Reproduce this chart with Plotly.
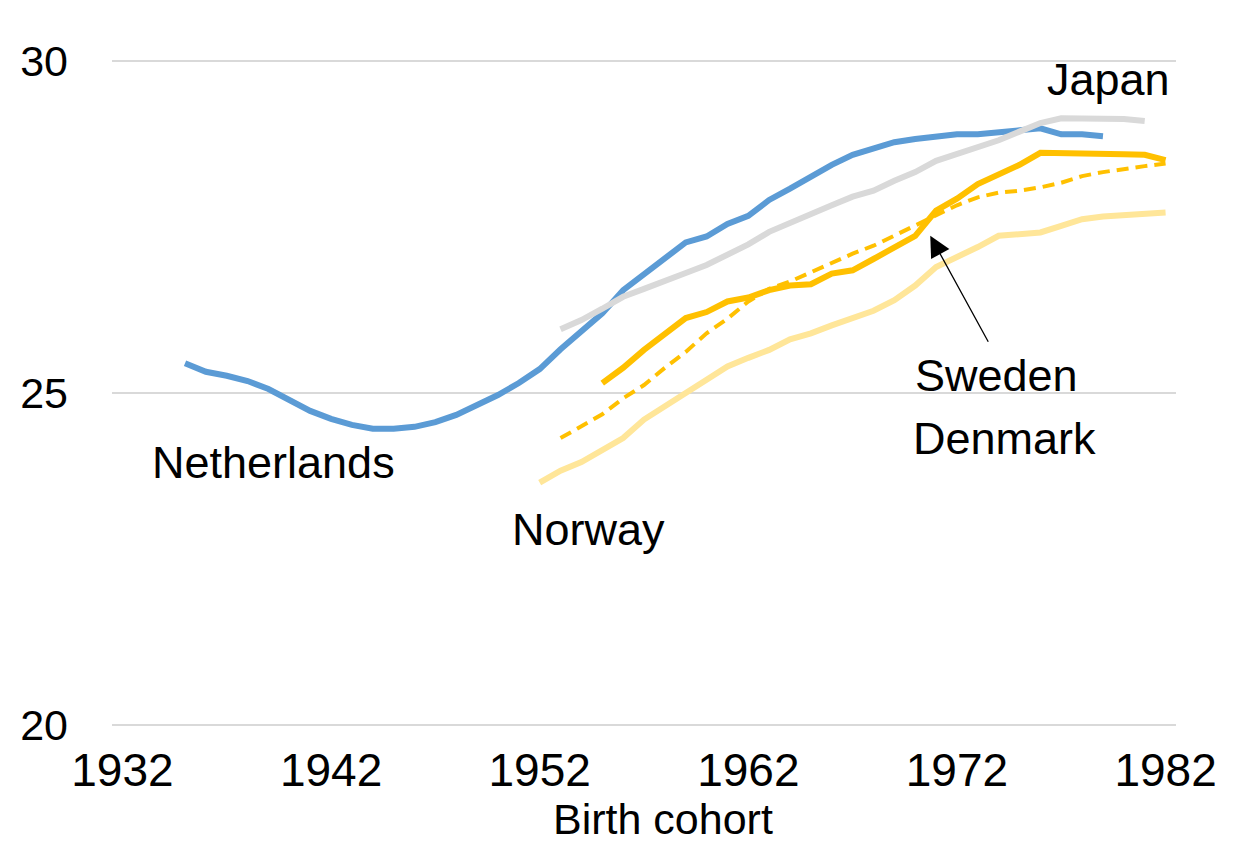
import plotly.graph_objects as go

FONT = "Liberation Sans, Arial, sans-serif"

netherlands_years = list(range(1935, 1980))
netherlands = [
    25.45, 25.32, 25.26, 25.18, 25.06, 24.90, 24.73, 24.61, 24.52, 24.46,
    24.46, 24.49, 24.56, 24.67, 24.82, 24.97, 25.15, 25.36, 25.66, 25.92,
    26.20, 26.55, 26.79, 27.04, 27.27, 27.36, 27.55, 27.67, 27.91, 28.08,
    28.26, 28.44, 28.59, 28.69, 28.78, 28.83, 28.86, 28.90, 28.90, 28.92,
    28.96, 28.99, 28.90, 28.90, 28.87,
]

japan_years = list(range(1953, 1982))
japan = [
    25.96, 26.10, 26.27, 26.45, 26.57, 26.70, 26.81, 26.93, 27.08, 27.24,
    27.43, 27.57, 27.70, 27.83, 27.96, 28.05, 28.20, 28.33, 28.50, 28.60,
    28.70, 28.81, 28.94, 29.07, 29.14, 29.14, 29.14, 29.13, 29.10,
]

sweden_years = list(range(1955, 1983))
sweden = [
    25.15, 25.38, 25.65, 25.90, 26.13, 26.22, 26.38, 26.44, 26.55, 26.62,
    26.64, 26.80, 26.85, 27.02, 27.20, 27.37, 27.75, 27.93, 28.15, 28.30,
    28.44, 28.62, 28.62, 28.62, 28.62, 28.60, 28.59, 28.51,
]

denmark_years = list(range(1953, 1983))
denmark = [
    24.32, 24.50, 24.68, 24.92, 25.12, 25.38, 25.62, 25.90, 26.12, 26.38,
    26.57, 26.68, 26.82, 26.97, 27.10, 27.22, 27.37, 27.52, 27.68, 27.83,
    27.95, 28.02, 28.05, 28.10, 28.17, 28.27, 28.33, 28.38, 28.42, 28.46,
]

norway_years = list(range(1952, 1983))
norway = [
    23.65, 23.83, 23.96, 24.14, 24.32, 24.60, 24.79, 25.00, 25.20, 25.40,
    25.53, 25.65, 25.81, 25.90, 26.02, 26.12, 26.24, 26.40, 26.62, 26.90,
    27.04, 27.20, 27.37, 27.40, 27.42, 27.52, 27.62, 27.66, 27.68, 27.69,
    27.72,
]

x_ticks = [1932, 1942, 1952, 1962, 1972, 1982]
y_ticks = [20, 25, 30]

fig = go.Figure()

series = [
    ("Norway", norway_years, norway, "#FFE699", 6, "solid"),
    ("Netherlands", netherlands_years, netherlands, "#5B9BD5", 6, "solid"),
    ("Japan", japan_years, japan, "#D9D9D9", 6, "solid"),
    ("Sweden", sweden_years, sweden, "#FFC000", 6, "solid"),
    ("Denmark", denmark_years, denmark, "#FFC000", 4, "12px,7px"),
]
for name, xs, ys, color, width, dash in series:
    fig.add_trace(
        go.Scatter(
            x=xs, y=ys, name=name, mode="lines",
            line=dict(color=color, width=width, dash=dash),
            cliponaxis=False,
        )
    )

labels = [
    ("Netherlands", 1933.3, 23.95),
    ("Norway", 1950.6, 22.94),
    ("Sweden", 1969.9, 25.26),
    ("Denmark", 1969.8, 24.31),
    ("Japan", 1976.2, 29.72),
]
for text, x, y in labels:
    fig.add_annotation(
        x=x, y=y, text=text, showarrow=False, xanchor="left", yanchor="middle",
        font=dict(family=FONT, size=45, color="#000000"),
    )

# arrow pointing to the solid line
fig.add_annotation(
    x=1970.72, y=27.37, ax=1973.54, ay=25.75, axref="x", ayref="y",
    text="", showarrow=True, arrowhead=2, arrowsize=3.2, arrowwidth=1.3,
    arrowcolor="#000000",
)

fig.add_annotation(
    x=0.518, y=-0.140, xref="paper", yref="paper", text="Birth cohort",
    showarrow=False, xanchor="center", yanchor="middle",
    font=dict(family=FONT, size=43, color="#000000"),
)

# page body has an 8px margin, so the figure is drawn 8px in from the corner
fig.update_layout(
    width=1221, height=837,
    margin=dict(l=96, r=42, t=52, b=119),
    plot_bgcolor="white", paper_bgcolor="white",
    showlegend=False,
    font=dict(family=FONT, size=43, color="#000000"),
)
fig.update_xaxes(
    range=[1931.5, 1982.5], tickvals=x_ticks, ticktext=[str(v) for v in x_ticks],
    tickfont=dict(size=46),
    showgrid=False, zeroline=False, showline=False, ticks="",
    ticklabelstandoff=13,
)
fig.update_yaxes(
    range=[19.98, 30.02], tickvals=y_ticks, showgrid=True, gridcolor="#D9D9D9",
    gridwidth=2, zeroline=False, showline=False, ticks="",
    tickfont=dict(size=43), ticklabelstandoff=43,
)

fig.write_html("out.html")
